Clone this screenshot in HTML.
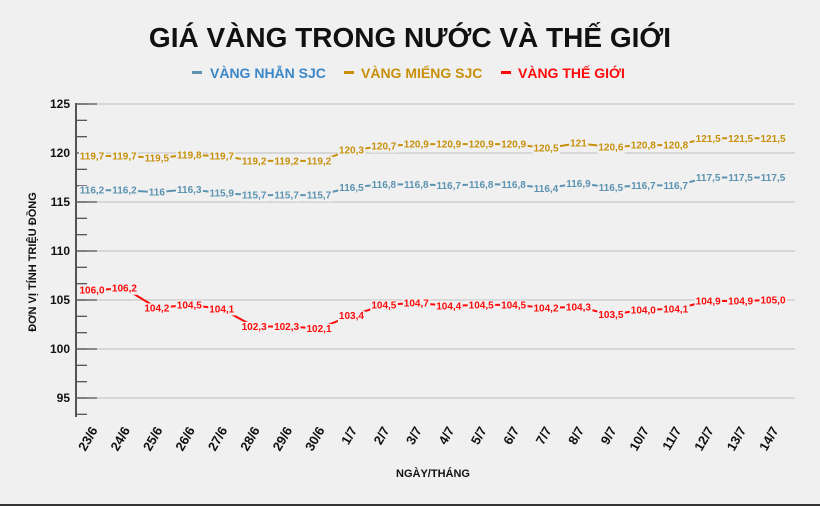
<!DOCTYPE html>
<html><head><meta charset="utf-8"><style>
body{margin:0;background:#f0f0f0;}
svg{display:block;font-family:"Liberation Sans",sans-serif;}
</style></head><body>
<svg id="chart" width="820" height="506" viewBox="0 0 820 506">
<rect width="820" height="506" fill="#f0f0f0"/>
<text x="410" y="47" text-anchor="middle" font-size="28" font-weight="bold" fill="#111">GIÁ VÀNG TRONG NƯỚC VÀ THẾ GIỚI</text>
<g font-size="14" font-weight="bold">
 <g><rect x="192" y="71" width="10" height="3" fill="#5b93b0"/><text x="210" y="78" fill="#3a87c8">VÀNG NHẪN SJC</text></g>
 <g><rect x="344" y="71" width="10" height="3" fill="#c8900a"/><text x="361" y="78" fill="#c8900a">VÀNG MIẾNG SJC</text></g>
 <g><rect x="501" y="71" width="10" height="3" fill="#ff0a0a"/><text x="518" y="78" fill="#ff0a0a">VÀNG THẾ GIỚI</text></g>
</g>
<text transform="translate(36,262) rotate(-90)" text-anchor="middle" font-size="11" font-weight="bold" fill="#111">ĐƠN VỊ TÍNH TRIỆU ĐỒNG</text>
<text x="433" y="477" text-anchor="middle" font-size="11" font-weight="bold" fill="#111">NGÀY/THÁNG</text>
<line x1="0" y1="505" x2="820" y2="505" stroke="#333" stroke-width="2"/>
<g id="grid"></g><g id="series"></g>
</svg>
<script>
const categories=["23/6","24/6","25/6","26/6","27/6","28/6","29/6","30/6","1/7","2/7","3/7","4/7","5/7","6/7","7/7","8/7","9/7","10/7","11/7","12/7","13/7","14/7"];
const nhanValues=[116.2,116.2,116,116.3,115.9,115.7,115.7,115.7,116.5,116.8,116.8,116.7,116.8,116.8,116.4,116.9,116.5,116.7,116.7,117.5,117.5,117.5];
const miengValues=[119.7,119.7,119.5,119.8,119.7,119.2,119.2,119.2,120.3,120.7,120.9,120.9,120.9,120.9,120.5,121,120.6,120.8,120.8,121.5,121.5,121.5];
const theGioiValues=[106.0,106.2,104.2,104.5,104.1,102.3,102.3,102.1,103.4,104.5,104.7,104.4,104.5,104.5,104.2,104.3,103.5,104.0,104.1,104.9,104.9,105.0];
const yTicks=[95,100,105,110,115,120,125];
const NS="http://www.w3.org/2000/svg";
const x0=92,dx=32.43;
const xs=i=>x0+i*dx;
const ys=v=>104+(125-v)*9.8;
function mk(t,a,p){const e=document.createElementNS(NS,t);for(const k in a)e.setAttribute(k,a[k]);p.appendChild(e);return e;}
const grid=document.getElementById('grid');
const ax=mk('line',{x1:76,y1:103,x2:76,y2:417,stroke:'#555','stroke-width':2},grid);


for(let k=0;k<=37;k++){const y=104+k*98/6;if(y>417)break;const t=mk('line',{x1:76,y1:y,x2:87,y2:y,stroke:'#555','stroke-width':1.3},grid);

}
yTicks.forEach(v=>{const y=ys(v);
const g=mk('line',{x1:76,y1:y,x2:795,y2:y,stroke:'#c8c8c8','stroke-width':1.3},grid);


const t=mk('line',{x1:76,y1:y,x2:97,y2:y,stroke:'#555','stroke-width':1.3},grid);


const l=mk('text',{x:70,y:y+4,'text-anchor':'end','font-size':12,'font-weight':'bold',fill:'#111'},grid);l.textContent=v;

});
categories.forEach((c,i)=>{const t=mk('text',{transform:`translate(${xs(i)+6},430) rotate(-60)`,'text-anchor':'end','font-size':13,'font-weight':'bold',fill:'#111'},grid);t.textContent=c;

});
const ser=document.getElementById('series');
function fmt(v,fixed){return fixed?v.toFixed(1).replace('.',','):String(v).replace('.',',');}
function draw(vals,color,name,fixed){
 const g=mk('g',{},ser);
 
 
 const pl=mk('polyline',{points:vals.map((v,i)=>xs(i)+','+ys(v)).join(' '),fill:'none',stroke:color,'stroke-width':2},g);
 
 
 vals.forEach((v,i)=>{
  const r=mk('rect',{fill:'#f0f0f0'},g);
  const t=mk('text',{x:xs(i),y:ys(v)+3.5,'text-anchor':'middle','font-size':10,'font-weight':'bold',fill:color},g);
  t.textContent=fmt(v,fixed);
  
  
  const b=t.getBBox();
  r.setAttribute('x',b.x-1);r.setAttribute('y',b.y);r.setAttribute('width',b.width+2);r.setAttribute('height',b.height);
  
  
 });
}
draw(nhanValues,'#5b93b0','series-nhan-sjc',false);
draw(miengValues,'#c8900a','series-mieng-sjc',false);
draw(theGioiValues,'#ff0a0a','series-the-gioi',true);
</script>
</body></html>
